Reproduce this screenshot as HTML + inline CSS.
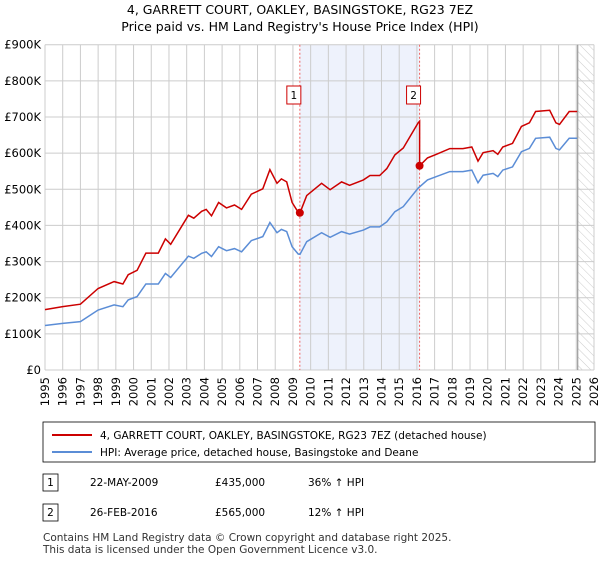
<!DOCTYPE html>
<html><head><meta charset="utf-8"><style>
body{margin:0;background:#fff;font-family:"Liberation Sans","DejaVu Sans",sans-serif;}
svg text{font-family:"DejaVu Sans","Liberation Sans",sans-serif;}
</style></head><body>
<svg id="c" width="600" height="560" xmlns="http://www.w3.org/2000/svg">
<defs><pattern id="hatch" width="6" height="6" patternUnits="userSpaceOnUse" patternTransform="rotate(-45)"><line x1="0" y1="0" x2="0" y2="6" stroke="#ccc" stroke-width="1"/></pattern></defs>
<text x="300" y="14" text-anchor="middle" font-size="12.5">4, GARRETT COURT, OAKLEY, BASINGSTOKE, RG23 7EZ</text>
<text x="300" y="31" text-anchor="middle" font-size="12.5">Price paid vs. HM Land Registry's House Price Index (HPI)</text>
<g id="plot"></g>
<g>
<rect x="43" y="422" width="552" height="40" fill="#fff" stroke="#000" stroke-width="0.8"/>
<line x1="52" y1="435" x2="92" y2="435" stroke="#cc0000" stroke-width="2"/>
<text x="100" y="439" font-size="10.5">4, GARRETT COURT, OAKLEY, BASINGSTOKE, RG23 7EZ (detached house)</text>
<line x1="52" y1="452" x2="92" y2="452" stroke="#5b8dd6" stroke-width="2"/>
<text x="100" y="456" font-size="10.5">HPI: Average price, detached house, Basingstoke and Deane</text>
</g>
<g font-size="10.5">
<rect x="43" y="474" width="15" height="17" fill="#fff" stroke="#000" stroke-width="0.8"/><text x="50.5" y="486" text-anchor="middle">1</text>
<text x="90" y="486">22-MAY-2009</text><text x="215" y="486">£435,000</text><text x="308" y="486">36% ↑ HPI</text>
<rect x="43" y="504" width="15" height="17" fill="#fff" stroke="#000" stroke-width="0.8"/><text x="50.5" y="516" text-anchor="middle">2</text>
<text x="90" y="516">26-FEB-2016</text><text x="215" y="516">£565,000</text><text x="308" y="516">12% ↑ HPI</text>
</g>
<text x="43" y="541" font-size="10.5" fill="#333">Contains HM Land Registry data © Crown copyright and database right 2025.</text>
<text x="43" y="553" font-size="10.5" fill="#333">This data is licensed under the Open Government Licence v3.0.</text>
</svg>
<script>
const hpiYears=[1995.0,1996.0,1997.0,1998.0,1998.9,1999.4,1999.7,2000.2,2000.7,2001.4,2001.8,2002.1,2003.1,2003.4,2003.85,2004.1,2004.4,2004.8,2005.25,2005.7,2006.1,2006.65,2007.3,2007.7,2008.1,2008.35,2008.65,2008.95,2009.3,2009.4,2009.78,2010.62,2011.1,2011.75,2012.2,2012.98,2013.35,2013.9,2014.3,2014.76,2015.23,2016.07,2016.6,2017.1,2017.86,2018.6,2019.1,2019.45,2019.74,2020.3,2020.57,2020.85,2021.4,2021.9,2022.35,2022.7,2023.5,2023.85,2024.05,2024.6,2025.05];
const hpiValues=[123,129,134,166,180,175,194,203,238,238,267,256,315,309,323,327,314,341,330,336,327,358,369,408,380,389,383,341,321,320,355,380,367,383,376,387,396,396,410,438,452,503,526,535,549,549,553,518,539,544,535,553,562,604,613,641,644,613,609,641,641];
const saleYears=[2009.39,2016.15];
const salePrices=[435,565];
const saleLabels=["1","2"];
const yTicks=[0,100,200,300,400,500,600,700,800,900];
const yTickLabels=["£0","£100K","£200K","£300K","£400K","£500K","£600K","£700K","£800K","£900K"];
const xTicks=[1995,1996,1997,1998,1999,2000,2001,2002,2003,2004,2005,2006,2007,2008,2009,2010,2011,2012,2013,2014,2015,2016,2017,2018,2019,2020,2021,2022,2023,2024,2025,2026];
const dataEnd=2025.08;

const X0=45,X1=594,Y0=370,Y1=44.7;
const x=v=>X0+(v-1995)*(X1-X0)/31;
const y=v=>Y0-v*(Y0-Y1)/900;
const NS="http://www.w3.org/2000/svg";
const g=document.getElementById('plot');
function mk(t,a,p){const e=document.createElementNS(NS,t);for(const k in a)e.setAttribute(k,a[k]);(p||g).appendChild(e);return e;}
function hpiAt(t){for(let i=0;i<hpiYears.length-1;i++){if(t>=hpiYears[i]&&t<=hpiYears[i+1]){const f=(t-hpiYears[i])/(hpiYears[i+1]-hpiYears[i]);return hpiValues[i]+f*(hpiValues[i+1]-hpiValues[i]);}}return hpiValues[hpiValues.length-1];}

let sh=mk('rect',{x:x(saleYears[0]),y:Y1,width:x(saleYears[1])-x(saleYears[0]),height:Y0-Y1,fill:'#eef2fc'});


let ht=mk('rect',{x:x(dataEnd),y:Y1,width:X1-x(dataEnd),height:Y0-Y1,fill:'url(#hatch)'});


xTicks.forEach(t=>{const l=mk('line',{x1:x(t),x2:x(t),y1:Y1,y2:Y0,stroke:'#cccccc','stroke-width':1});


const tx=mk('text',{x:0,y:0,'text-anchor':'end','font-size':'11.5',transform:'translate('+(x(t)+4).toFixed(1)+','+(Y0+7)+') rotate(-90)'});tx.textContent=t;

});
yTicks.forEach((t,i)=>{const l=mk('line',{x1:X0,x2:X1,y1:y(t),y2:y(t),stroke:'#cccccc','stroke-width':1});


const tx=mk('text',{x:X0-4,y:y(t)+4,'text-anchor':'end','font-size':'11.5'});tx.textContent=yTickLabels[i];

});
let el=mk('line',{x1:x(dataEnd),x2:x(dataEnd),y1:Y1,y2:Y0,stroke:'#999','stroke-width':1.2});


saleYears.forEach((s,i)=>{const l=mk('line',{x1:x(s),x2:x(s),y1:Y1,y2:Y0,stroke:'#ee6666','stroke-width':1,'stroke-dasharray':'2,2'});

});
let hp='';hpiYears.forEach((t,i)=>{hp+=(i?'L':'M')+x(t).toFixed(1)+','+y(hpiValues[i]).toFixed(1);});
let hl=mk('path',{d:hp,fill:'none',stroke:'#5b8dd6','stroke-width':1.5});


const r1=salePrices[0]/hpiAt(saleYears[0]),r2=salePrices[1]/hpiAt(saleYears[1]);
let pp='';hpiYears.forEach((t,i)=>{if(t<=saleYears[1]){pp+=(pp?'L':'M')+x(t).toFixed(1)+','+y(hpiValues[i]*r1).toFixed(1);}});
pp+='L'+x(saleYears[1]).toFixed(1)+','+y(hpiAt(saleYears[1])*r1).toFixed(1);
pp+='L'+x(saleYears[1]).toFixed(1)+','+y(salePrices[1]).toFixed(1);
hpiYears.forEach((t,i)=>{if(t>saleYears[1])pp+='L'+x(t).toFixed(1)+','+y(hpiValues[i]*r2).toFixed(1);});
let pl=mk('path',{d:pp,fill:'none',stroke:'#cc0000','stroke-width':1.5});


saleYears.forEach((s,i)=>{const c=mk('circle',{cx:x(s),cy:y(salePrices[i]),r:4,fill:'#cc0000'});


const b=mk('rect',{x:x(s)-13,y:86,width:14,height:18,fill:'#fff',stroke:'#cc0000','stroke-width':1});


const tx=mk('text',{x:x(s)-6,y:99,'text-anchor':'middle','font-size':'10.5'});tx.textContent=saleLabels[i];

});
</script>
</body></html>
